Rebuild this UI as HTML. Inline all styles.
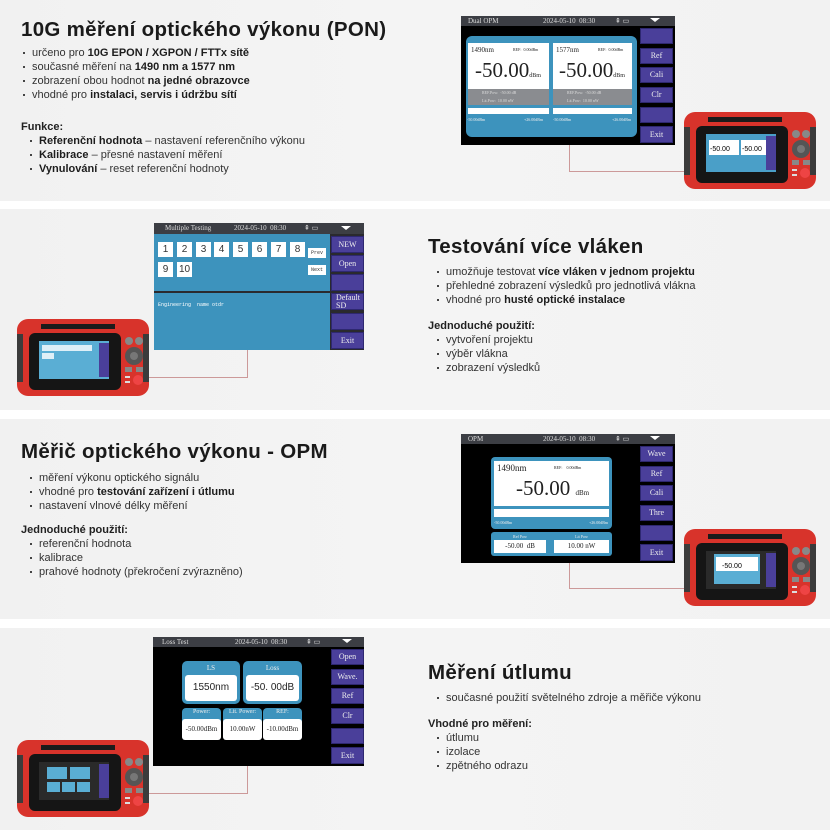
<!DOCTYPE html>
<html><head><meta charset="utf-8">
<style>
*{margin:0;padding:0;box-sizing:border-box}
body{width:830px;height:830px;background:#fff;position:relative;overflow:hidden;font-family:"Liberation Sans",Arial,sans-serif;color:#222}
.band{position:absolute;left:0;width:830px;background:linear-gradient(90deg,#f1f1f1,#f4f4f4 50%,#f2f2f2)}
.a{position:absolute;white-space:nowrap}
h1{position:absolute;white-space:nowrap;font-size:20.5px;font-weight:bold;letter-spacing:0.3px;color:#1a1a1a;line-height:24px}
.t{position:absolute;white-space:nowrap;font-size:11px;line-height:14px;color:#333}
.t b{color:#1d1d1d}
.t:before{content:"";position:absolute;left:-9px;top:6px;width:2px;height:2px;background:#444}
.hd{position:absolute;white-space:nowrap;font-size:11px;line-height:14px;font-weight:bold;color:#222}
.scr{position:absolute;background:#000;overflow:hidden;font-family:"Liberation Serif",serif}
.bar{position:absolute;left:0;top:0;right:0;height:10px;background:#3c3e44;color:#ddd;font-size:7px;line-height:10px}
.btn{position:absolute;background:#4a3f9a;color:#eee;font-size:8px;text-align:center;border:1px solid #2e2870}
.ln{position:absolute;background:#c99}
</style></head><body>
<div class="band" style="top:0;height:201px"></div>
<div class="band" style="top:209px;height:201px"></div>
<div class="band" style="top:419px;height:200px"></div>
<div class="band" style="top:628px;height:202px"></div>

<h1 style="left:21px;top:18px">10G měření optického výkonu (PON)</h1>
<div class="t" style="left:32px;top:46px">určeno pro <b>10G EPON / XGPON / FTTx sítě</b></div>
<div class="t" style="left:32px;top:60px">současné měření na <b>1490 nm a 1577 nm</b></div>
<div class="t" style="left:32px;top:74px">zobrazení obou hodnot <b>na jedné obrazovce</b></div>
<div class="t" style="left:32px;top:88px">vhodné pro <b>instalaci, servis i údržbu sítí</b></div>
<div class="hd" style="left:21px;top:120px">Funkce:</div>
<div class="t" style="left:39px;top:134px"><b>Referenční hodnota</b> – nastavení referenčního výkonu</div>
<div class="t" style="left:39px;top:148px"><b>Kalibrace</b> – přesné nastavení měření</div>
<div class="t" style="left:39px;top:162px"><b>Vynulování</b> – reset referenční hodnoty</div>

<div class="scr" style="left:461px;top:16px;width:214px;height:129px">
 <div class="bar"><span class="a" style="left:7px">Dual OPM</span><span class="a" style="left:82px">2024-05-10 &nbsp;08:30</span><span class="a" style="left:154px">⇞ ▭</span><span class="a" style="left:189px;top:2px;width:0;height:0;border-left:5px solid transparent;border-right:5px solid transparent;border-top:4px solid #fff"></span></div>
 <div class="a" style="left:5px;top:20px;width:171px;height:101px;background:#3d93bd;border-radius:6px"></div>
 <div class="a" style="left:7px;top:27px;width:81px;height:46px;background:#fff"><span class="a" style="left:3px;top:3px;font-size:7px">1490nm</span><span class="a" style="left:45px;top:4px;font-size:4px">REF: &nbsp;0.00dBm</span><span class="a" style="left:7px;top:15px;font-size:21px">-50.00<span style="font-size:6px">dBm</span></span></div>
 <div class="a" style="left:92px;top:27px;width:79px;height:46px;background:#fff"><span class="a" style="left:3px;top:3px;font-size:7px">1577nm</span><span class="a" style="left:45px;top:4px;font-size:4px">REF: &nbsp;0.00dBm</span><span class="a" style="left:6px;top:15px;font-size:21px">-50.00<span style="font-size:6px">dBm</span></span></div>
 <div class="a" style="left:7px;top:73px;width:81px;height:16px;background:#8a8c90;color:#ddd;font-size:4px;line-height:8px;padding-left:14px">REF.Pow: &nbsp;-50.00 dB<br>Lit.Pow: &nbsp;10.00 nW</div>
 <div class="a" style="left:92px;top:73px;width:79px;height:16px;background:#8a8c90;color:#ddd;font-size:4px;line-height:8px;padding-left:14px">REF.Pow: &nbsp;-50.00 dB<br>Lit.Pow: &nbsp;10.00 nW</div>
 <div class="a" style="left:7px;top:92px;width:81px;height:6px;background:#fff"></div>
 <div class="a" style="left:92px;top:92px;width:79px;height:6px;background:#fff"></div>
 <div class="a" style="left:6px;top:101px;font-size:4px;color:#eee">-50.00dBm</div><div class="a" style="left:63px;top:101px;font-size:4px;color:#eee">+26.00dBm</div>
 <div class="a" style="left:92px;top:101px;font-size:4px;color:#eee">-50.00dBm</div><div class="a" style="left:151px;top:101px;font-size:4px;color:#eee">+26.00dBm</div>
 <div class="btn" style="left:179px;top:12px;width:33px;height:16px"></div>
 <div class="btn" style="left:179px;top:32px;width:33px;height:16px;line-height:14px">Ref</div>
 <div class="btn" style="left:179px;top:51px;width:33px;height:16px;line-height:14px">Cali</div>
 <div class="btn" style="left:179px;top:71px;width:33px;height:16px;line-height:14px">Clr</div>
 <div class="btn" style="left:179px;top:91px;width:33px;height:16px"></div>
 <div class="btn" style="left:179px;top:110px;width:33px;height:17px;line-height:15px">Exit</div>
</div>
<div class="ln" style="left:569px;top:145px;width:1px;height:27px"></div>
<div class="ln" style="left:569px;top:171px;width:116px;height:1px"></div>

<svg class="a" style="left:684px;top:109px" width="132" height="82" viewBox="0 0 132 82">
 <rect x="0" y="3" width="132" height="77" rx="11" fill="#d8332b"/>
 <rect x="0" y="18" width="6" height="48" fill="#3b3b3b"/><rect x="126" y="18" width="6" height="48" fill="#3b3b3b"/>
 <rect x="24" y="8" width="74" height="5" fill="#1b1b1b"/>
 <rect x="12" y="17" width="92" height="57" rx="6" fill="#151515"/>
 <rect x="22" y="25" width="70" height="38" fill="#4a9fc8"/>
 <rect x="25" y="31" width="30" height="15" fill="#fff"/><rect x="57" y="31" width="30" height="15" fill="#fff"/>
 <text x="26" y="42" font-size="7" font-family="Liberation Sans">-50.00</text><text x="58" y="42" font-size="7" font-family="Liberation Sans">-50.00</text>
 <rect x="82" y="27" width="10" height="34" fill="#4a3f9a"/>
 <circle cx="112" cy="25" r="4" fill="#888"/><circle cx="122" cy="25" r="4" fill="#888"/>
 <circle cx="117" cy="40" r="9" fill="#555"/><circle cx="117" cy="40" r="4" fill="#777"/>
 <rect x="108" y="51" width="7" height="5" fill="#888"/><rect x="119" y="51" width="7" height="5" fill="#888"/>
 <circle cx="121" cy="64" r="5" fill="#e44"/><rect x="108" y="60" width="5" height="2" fill="#ddd"/><rect x="108" y="65" width="5" height="2" fill="#ddd"/>
</svg>

<div class="scr" style="left:154px;top:223px;width:210px;height:127px;background:#2a2a2e">
 <div class="bar" style="height:11px;line-height:11px"><span class="a" style="left:11px">Multiple Testing</span><span class="a" style="left:80px">2024-05-10 &nbsp;08:30</span><span class="a" style="left:150px">⇞ ▭</span><span class="a" style="left:187px;top:3px;width:0;height:0;border-left:5px solid transparent;border-right:5px solid transparent;border-top:4px solid #fff"></span></div>
 <div class="a" style="left:0;top:11px;width:176px;height:57px;background:#3d93bd"></div>
 <div class="a" style="left:0;top:70px;width:176px;height:57px;background:#3d93bd"></div>
 <div class="a" style="left:4px;top:79px;font-size:5px;color:#fff;font-family:'Liberation Mono',monospace">Engineering &nbsp;name otdr</div>
 <div style="position:absolute;left:4px;top:19px;font-family:'Liberation Sans',sans-serif;font-size:10px;color:#333">
  <span class="a" style="left:0;width:15px;height:15px;background:#fff;text-align:center;line-height:15px">1</span>
  <span class="a" style="left:19px;width:15px;height:15px;background:#fff;text-align:center;line-height:15px">2</span>
  <span class="a" style="left:38px;width:15px;height:15px;background:#fff;text-align:center;line-height:15px">3</span>
  <span class="a" style="left:56px;width:15px;height:15px;background:#fff;text-align:center;line-height:15px">4</span>
  <span class="a" style="left:75px;width:15px;height:15px;background:#fff;text-align:center;line-height:15px">5</span>
  <span class="a" style="left:94px;width:15px;height:15px;background:#fff;text-align:center;line-height:15px">6</span>
  <span class="a" style="left:113px;width:15px;height:15px;background:#fff;text-align:center;line-height:15px">7</span>
  <span class="a" style="left:132px;width:15px;height:15px;background:#fff;text-align:center;line-height:15px">8</span>
  <span class="a" style="left:0;top:20px;width:15px;height:15px;background:#fff;text-align:center;line-height:15px">9</span>
  <span class="a" style="left:19px;top:20px;width:15px;height:15px;background:#fff;text-align:center;line-height:15px">10</span>
  <span class="a" style="left:150px;top:6px;width:18px;height:10px;background:#fff;font-size:5px;text-align:center;line-height:10px;font-family:'Liberation Mono',monospace">Prev</span>
  <span class="a" style="left:150px;top:23px;width:18px;height:10px;background:#fff;font-size:5px;text-align:center;line-height:10px;font-family:'Liberation Mono',monospace">Next</span>
 </div>
 <div class="btn" style="left:177px;top:13px;width:33px;height:17px;line-height:15px">NEW</div>
 <div class="btn" style="left:177px;top:32px;width:33px;height:17px;line-height:15px">Open</div>
 <div class="btn" style="left:177px;top:51px;width:33px;height:17px"></div>
 <div class="btn" style="left:177px;top:70px;width:33px;height:17px;line-height:8px;text-align:left;padding-left:4px">Default<br>SD</div>
 <div class="btn" style="left:177px;top:90px;width:33px;height:17px"></div>
 <div class="btn" style="left:177px;top:109px;width:33px;height:17px;line-height:15px">Exit</div>
</div>
<div class="ln" style="left:247px;top:350px;width:1px;height:27px"></div>
<div class="ln" style="left:148px;top:377px;width:100px;height:1px"></div>
<svg class="a" style="left:17px;top:316px" width="132" height="82" viewBox="0 0 132 82">
 <rect x="0" y="3" width="132" height="77" rx="11" fill="#d8332b"/>
 <rect x="0" y="18" width="6" height="48" fill="#3b3b3b"/><rect x="126" y="18" width="6" height="48" fill="#3b3b3b"/>
 <rect x="24" y="8" width="74" height="5" fill="#1b1b1b"/>
 <rect x="12" y="17" width="92" height="57" rx="6" fill="#151515"/>
 <rect x="22" y="25" width="70" height="38" fill="#5aaed4"/>
 <rect x="25" y="29" width="50" height="6" fill="#fff" opacity=".8"/><rect x="25" y="37" width="12" height="6" fill="#fff" opacity=".8"/>
 <rect x="82" y="27" width="10" height="34" fill="#4a3f9a"/>
 <circle cx="112" cy="25" r="4" fill="#888"/><circle cx="122" cy="25" r="4" fill="#888"/>
 <circle cx="117" cy="40" r="9" fill="#555"/><circle cx="117" cy="40" r="4" fill="#777"/>
 <rect x="108" y="51" width="7" height="5" fill="#888"/><rect x="119" y="51" width="7" height="5" fill="#888"/>
 <circle cx="121" cy="64" r="5" fill="#e44"/><rect x="108" y="60" width="5" height="2" fill="#ddd"/><rect x="108" y="65" width="5" height="2" fill="#ddd"/>
</svg>
<h1 style="left:428px;top:235px">Testování více vláken</h1>
<div class="t" style="left:446px;top:265px">umožňuje testovat <b>více vláken v jednom projektu</b></div>
<div class="t" style="left:446px;top:279px">přehledné zobrazení výsledků pro jednotlivá vlákna</div>
<div class="t" style="left:446px;top:293px">vhodné pro <b>husté optické instalace</b></div>
<div class="hd" style="left:428px;top:319px">Jednoduché použití:</div>
<div class="t" style="left:446px;top:333px">vytvoření projektu</div>
<div class="t" style="left:446px;top:347px">výběr vlákna</div>
<div class="t" style="left:446px;top:361px">zobrazení výsledků</div>

<h1 style="left:21px;top:440px">Měřič optického výkonu - OPM</h1>
<div class="t" style="left:39px;top:471px">měření výkonu optického signálu</div>
<div class="t" style="left:39px;top:485px">vhodné pro <b>testování zařízení i útlumu</b></div>
<div class="t" style="left:39px;top:499px">nastavení vlnové délky měření</div>
<div class="hd" style="left:21px;top:523px">Jednoduché použití:</div>
<div class="t" style="left:39px;top:537px">referenční hodnota</div>
<div class="t" style="left:39px;top:551px">kalibrace</div>
<div class="t" style="left:39px;top:565px">prahové hodnoty (překročení zvýrazněno)</div>

<div class="scr" style="left:461px;top:434px;width:214px;height:129px">
 <div class="bar"><span class="a" style="left:7px">OPM</span><span class="a" style="left:82px">2024-05-10 &nbsp;08:30</span><span class="a" style="left:154px">⇞ ▭</span><span class="a" style="left:189px;top:2px;width:0;height:0;border-left:5px solid transparent;border-right:5px solid transparent;border-top:4px solid #fff"></span></div>
 <div class="a" style="left:30px;top:23px;width:121px;height:72px;background:#3d93bd;border-radius:4px"></div>
 <div class="a" style="left:33px;top:27px;width:115px;height:45px;background:#fff"><span class="a" style="left:3px;top:2px;font-size:9px">1490nm</span><span class="a" style="left:60px;top:4px;font-size:4px">REF: &nbsp;&nbsp;&nbsp;0.00dBm</span><span class="a" style="left:22px;top:15px;font-size:21px">-50.00 <span style="font-size:7px">dBm</span></span></div>
 <div class="a" style="left:33px;top:75px;width:115px;height:8px;background:#fff"></div>
 <div class="a" style="left:33px;top:86px;font-size:4px;color:#eee">-50.00dBm</div><div class="a" style="left:128px;top:86px;font-size:4px;color:#eee">+26.00dBm</div>
 <div class="a" style="left:30px;top:98px;width:121px;height:24px;background:#3d93bd;border-radius:3px"></div>
 <div class="a" style="left:33px;top:100px;width:52px;font-size:4px;color:#eee;text-align:center">Ref Pow</div>
 <div class="a" style="left:93px;top:100px;width:55px;font-size:4px;color:#eee;text-align:center">Lit Pow</div>
 <div class="a" style="left:33px;top:106px;width:52px;height:13px;background:#fff;font-size:7px;text-align:center;line-height:13px">-50.00 &nbsp;dB</div>
 <div class="a" style="left:93px;top:106px;width:55px;height:13px;background:#fff;font-size:7px;text-align:center;line-height:13px">10.00 nW</div>
 <div class="btn" style="left:179px;top:12px;width:33px;height:16px;line-height:14px">Wave</div>
 <div class="btn" style="left:179px;top:32px;width:33px;height:16px;line-height:14px">Ref</div>
 <div class="btn" style="left:179px;top:51px;width:33px;height:16px;line-height:14px">Cali</div>
 <div class="btn" style="left:179px;top:71px;width:33px;height:16px;line-height:14px">Thre</div>
 <div class="btn" style="left:179px;top:91px;width:33px;height:16px"></div>
 <div class="btn" style="left:179px;top:110px;width:33px;height:17px;line-height:15px">Exit</div>
</div>
<div class="ln" style="left:569px;top:563px;width:1px;height:25px"></div>
<div class="ln" style="left:569px;top:588px;width:116px;height:1px"></div>
<svg class="a" style="left:684px;top:525px" width="132" height="84" viewBox="0 0 132 82">
 <rect x="0" y="3" width="132" height="77" rx="11" fill="#d8332b"/>
 <rect x="0" y="18" width="6" height="48" fill="#3b3b3b"/><rect x="126" y="18" width="6" height="48" fill="#3b3b3b"/>
 <rect x="24" y="8" width="74" height="5" fill="#1b1b1b"/>
 <rect x="12" y="17" width="92" height="57" rx="6" fill="#151515"/>
 <rect x="22" y="25" width="70" height="38" fill="#2a2a2a"/>
 <rect x="30" y="28" width="46" height="30" fill="#5aaed4"/><rect x="32" y="31" width="42" height="14" fill="#fff"/>
 <text x="38" y="42" font-size="7" font-family="Liberation Sans">-50.00</text>
 <rect x="82" y="27" width="10" height="34" fill="#4a3f9a"/>
 <circle cx="112" cy="25" r="4" fill="#888"/><circle cx="122" cy="25" r="4" fill="#888"/>
 <circle cx="117" cy="40" r="9" fill="#555"/><circle cx="117" cy="40" r="4" fill="#777"/>
 <rect x="108" y="51" width="7" height="5" fill="#888"/><rect x="119" y="51" width="7" height="5" fill="#888"/>
 <circle cx="121" cy="64" r="5" fill="#e44"/><rect x="108" y="60" width="5" height="2" fill="#ddd"/><rect x="108" y="65" width="5" height="2" fill="#ddd"/>
</svg>

<div class="scr" style="left:153px;top:637px;width:211px;height:129px">
 <div class="bar"><span class="a" style="left:9px">Loss Test</span><span class="a" style="left:82px">2024-05-10 &nbsp;08:30</span><span class="a" style="left:153px">⇞ ▭</span><span class="a" style="left:189px;top:2px;width:0;height:0;border-left:5px solid transparent;border-right:5px solid transparent;border-top:4px solid #fff"></span></div>
 <div class="a" style="left:29px;top:24px;width:58px;height:43px;background:#3d93bd;border-radius:5px"><span class="a" style="left:0;width:58px;top:3px;text-align:center;color:#eee;font-size:7px">LS</span><div class="a" style="left:3px;top:14px;width:52px;height:26px;background:#fff;border-radius:3px;font-family:'Liberation Sans';font-size:10px;text-align:center;line-height:26px">1550nm</div></div>
 <div class="a" style="left:90px;top:24px;width:59px;height:43px;background:#3d93bd;border-radius:5px"><span class="a" style="left:0;width:59px;top:3px;text-align:center;color:#eee;font-size:7px">Loss</span><div class="a" style="left:3px;top:14px;width:53px;height:26px;background:#fff;border-radius:3px;font-family:'Liberation Sans';font-size:10px;text-align:center;line-height:26px">-50. 00dB</div></div>
 <div class="a" style="left:29px;top:71px;width:39px;height:32px;background:#3d93bd;border-radius:4px"><span class="a" style="left:0;width:39px;top:1px;text-align:center;color:#eee;font-size:6px">Power:</span><div class="a" style="left:0;top:11px;width:39px;height:21px;background:#fff;border-radius:3px;font-size:7px;text-align:center;line-height:21px">-50.00dBm</div></div>
 <div class="a" style="left:70px;top:71px;width:39px;height:32px;background:#3d93bd;border-radius:4px"><span class="a" style="left:0;width:39px;top:1px;text-align:center;color:#eee;font-size:6px">Lit. Power:</span><div class="a" style="left:0;top:11px;width:39px;height:21px;background:#fff;border-radius:3px;font-size:7px;text-align:center;line-height:21px">10.00nW</div></div>
 <div class="a" style="left:110px;top:71px;width:39px;height:32px;background:#3d93bd;border-radius:4px"><span class="a" style="left:0;width:39px;top:1px;text-align:center;color:#eee;font-size:6px">REF:</span><div class="a" style="left:0;top:11px;width:39px;height:21px;background:#fff;border-radius:3px;font-size:7px;text-align:center;line-height:21px">-10.00dBm</div></div>
 <div class="btn" style="left:178px;top:12px;width:33px;height:16px;line-height:14px">Open</div>
 <div class="btn" style="left:178px;top:32px;width:33px;height:16px;line-height:14px">Wave.</div>
 <div class="btn" style="left:178px;top:51px;width:33px;height:16px;line-height:14px">Ref</div>
 <div class="btn" style="left:178px;top:71px;width:33px;height:16px;line-height:14px">Clr</div>
 <div class="btn" style="left:178px;top:91px;width:33px;height:16px"></div>
 <div class="btn" style="left:178px;top:110px;width:33px;height:17px;line-height:15px">Exit</div>
</div>
<div class="ln" style="left:247px;top:766px;width:1px;height:27px"></div>
<div class="ln" style="left:148px;top:793px;width:100px;height:1px"></div>
<svg class="a" style="left:17px;top:737px" width="132" height="82" viewBox="0 0 132 82">
 <rect x="0" y="3" width="132" height="77" rx="11" fill="#d8332b"/>
 <rect x="0" y="18" width="6" height="48" fill="#3b3b3b"/><rect x="126" y="18" width="6" height="48" fill="#3b3b3b"/>
 <rect x="24" y="8" width="74" height="5" fill="#1b1b1b"/>
 <rect x="12" y="17" width="92" height="57" rx="6" fill="#151515"/>
 <rect x="22" y="25" width="70" height="38" fill="#2a2a2a"/>
 <rect x="30" y="30" width="20" height="12" fill="#5aaed4"/><rect x="53" y="30" width="20" height="12" fill="#5aaed4"/>
 <rect x="30" y="45" width="13" height="10" fill="#5aaed4"/><rect x="45" y="45" width="13" height="10" fill="#5aaed4"/><rect x="60" y="45" width="13" height="10" fill="#5aaed4"/>
 <rect x="82" y="27" width="10" height="34" fill="#4a3f9a"/>
 <circle cx="112" cy="25" r="4" fill="#888"/><circle cx="122" cy="25" r="4" fill="#888"/>
 <circle cx="117" cy="40" r="9" fill="#555"/><circle cx="117" cy="40" r="4" fill="#777"/>
 <rect x="108" y="51" width="7" height="5" fill="#888"/><rect x="119" y="51" width="7" height="5" fill="#888"/>
 <circle cx="121" cy="64" r="5" fill="#e44"/><rect x="108" y="60" width="5" height="2" fill="#ddd"/><rect x="108" y="65" width="5" height="2" fill="#ddd"/>
</svg>
<h1 style="left:428px;top:661px">Měření útlumu</h1>
<div class="t" style="left:446px;top:691px">současné použití světelného zdroje a měřiče výkonu</div>
<div class="hd" style="left:428px;top:717px">Vhodné pro měření:</div>
<div class="t" style="left:446px;top:731px">útlumu</div>
<div class="t" style="left:446px;top:745px">izolace</div>
<div class="t" style="left:446px;top:759px">zpětného odrazu</div>
</body></html>
